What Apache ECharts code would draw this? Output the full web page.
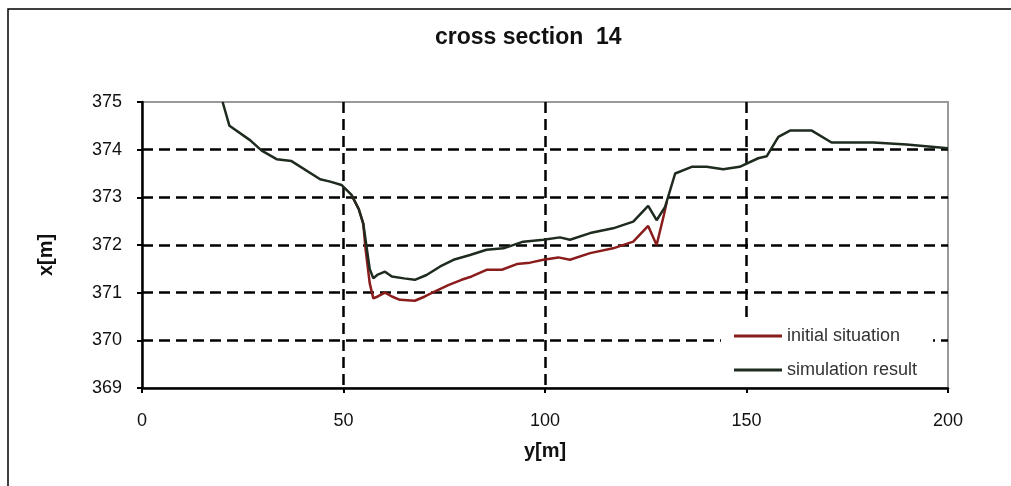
<!DOCTYPE html>
<html>
<head>
<meta charset="utf-8">
<script src="https://cdn.jsdelivr.net/npm/echarts@6/dist/echarts.min.js"></script>
<style>
html, body { margin: 0; padding: 0; background: #fff; }
#chart { width: 1011px; height: 486px; }
</style>
</head>
<body>
<div id="chart"></div>
<script>
// values
var xTicks = [0, 50, 100, 150, 200];
var yTicks = [369, 370, 371, 372, 373, 374, 375];

var simX = [20, 21.7, 26.8, 29.7, 33.4, 37.1, 44.2, 46.7, 49.5, 52.0, 53.8, 54.9, 56.5, 57.4, 58.5, 60.3, 62.0, 65.0, 67.7, 70.6, 74.0, 77.3, 81.4, 85.5, 89.7, 94.6, 99.6, 103.7, 106.2, 111.2, 116.9, 121.9, 125.6, 127.7, 129.8, 132.3, 136.4, 140.1, 144.2, 148.3, 152.9, 155.0, 157.9, 160.8, 166.2, 171.1, 181.5, 189.7, 200];
var simY = [375.0, 374.5, 374.2, 373.98, 373.8, 373.76, 373.38, 373.33, 373.26, 373.05, 372.75, 372.45, 371.5, 371.30, 371.38, 371.44, 371.34, 371.30, 371.27, 371.37, 371.55, 371.69, 371.79, 371.90, 371.93, 372.07, 372.11, 372.16, 372.11, 372.25, 372.35, 372.49, 372.82, 372.52, 372.80, 373.50, 373.64, 373.64, 373.59, 373.64, 373.82, 373.86, 374.27, 374.40, 374.40, 374.15, 374.15, 374.11, 374.03];

var initX = [52.0, 53.8, 54.9, 55.5, 56.5, 57.4, 58.5, 60.3, 62.0, 64.0, 67.7, 70.2, 73.0, 76.0, 79.3, 81.8, 85.5, 89.3, 93.0, 96.3, 99.6, 103.3, 106.2, 111.2, 116.9, 121.9, 125.6, 127.7, 129.5, 130.2];
var initY = [373.05, 372.75, 372.45, 371.9, 371.2, 370.88, 370.92, 371.0, 370.92, 370.85, 370.83, 370.92, 371.04, 371.16, 371.27, 371.34, 371.48, 371.48, 371.60, 371.63, 371.69, 371.74, 371.69, 371.83, 371.93, 372.07, 372.40, 372.0, 372.63, 372.9];

function pairs(xs, ys) {
    return xs.map(function (x, i) { return [x, ys[i]]; });
}

var chart = echarts.init(document.getElementById('chart'));

var gridDash = {
    show: true,
    showMinLine: false,
    showMaxLine: false,
    lineStyle: { color: '#000', width: 2.5, type: [11, 6] }
};

option = {
    backgroundColor: '#fff',
    animation: false,
    textStyle: { fontFamily: 'Liberation Sans, Arial, sans-serif' },
    graphic: [{
        type: 'rect',
        shape: { x: 8, y: 9, width: 1100, height: 600 },
        style: { fill: 'none', stroke: '#000', lineWidth: 1.5 },
        silent: true
    }],
    title: {
        text: 'cross section  14',
        left: 430,
        top: 21,
        textStyle: { fontSize: 23, fontWeight: 'bold', color: '#111' }
    },
    grid: {
        left: 142,
        right: 63,
        top: 102,
        bottom: 98,
        show: true,
        borderColor: '#999',
        borderWidth: 2
    },
    legend: {
        orient: 'vertical',
        left: 721,
        top: 322,
        padding: [5, 16, 8, 13],
        backgroundColor: '#fff',
        icon: 'rect',
        itemWidth: 48,
        itemHeight: 3,
        itemGap: 16,
        textStyle: { fontSize: 18, color: '#333' },
        data: ['initial situation', 'simulation result']
    },
    xAxis: {
        type: 'value',
        min: xTicks[0],
        max: xTicks[xTicks.length - 1],
        interval: 50,
        name: 'y[m]',
        nameLocation: 'middle',
        nameGap: 53,
        nameTextStyle: { fontSize: 20, fontWeight: 'bold', color: '#111' },
        axisLine: { lineStyle: { color: '#000', width: 2.5 } },
        axisTick: { show: true, length: 5, lineStyle: { color: '#000', width: 2 } },
        axisLabel: { fontSize: 18, color: '#111', margin: 24 },
        splitLine: gridDash
    },
    yAxis: {
        type: 'value',
        min: yTicks[0],
        max: yTicks[yTicks.length - 1],
        interval: 1,
        name: 'x[m]',
        nameLocation: 'middle',
        nameRotate: 90,
        nameGap: 86,
        nameTextStyle: { fontSize: 20, fontWeight: 'bold', color: '#111', padding: [0, 20, 0, 0] },
        axisLine: { show: true, lineStyle: { color: '#000', width: 2.5 } },
        axisTick: { show: true, length: 5, lineStyle: { color: '#000', width: 2 } },
        axisLabel: { fontSize: 18, color: '#111', margin: 20 },
        splitLine: gridDash
    },
    series: [{
        name: 'initial situation',
        type: 'line',
        data: pairs(initX, initY),
        showSymbol: false,
        color: '#8a1c1c',
        lineStyle: { width: 2.5, color: '#8a1c1c' }
    }, {
        name: 'simulation result',
        type: 'line',
        data: pairs(simX, simY),
        showSymbol: false,
        color: '#1e2b1e',
        lineStyle: { width: 2.5, color: '#1e2b1e' }
    }]
};
chart.setOption(option);
</script>
</body>
</html>
